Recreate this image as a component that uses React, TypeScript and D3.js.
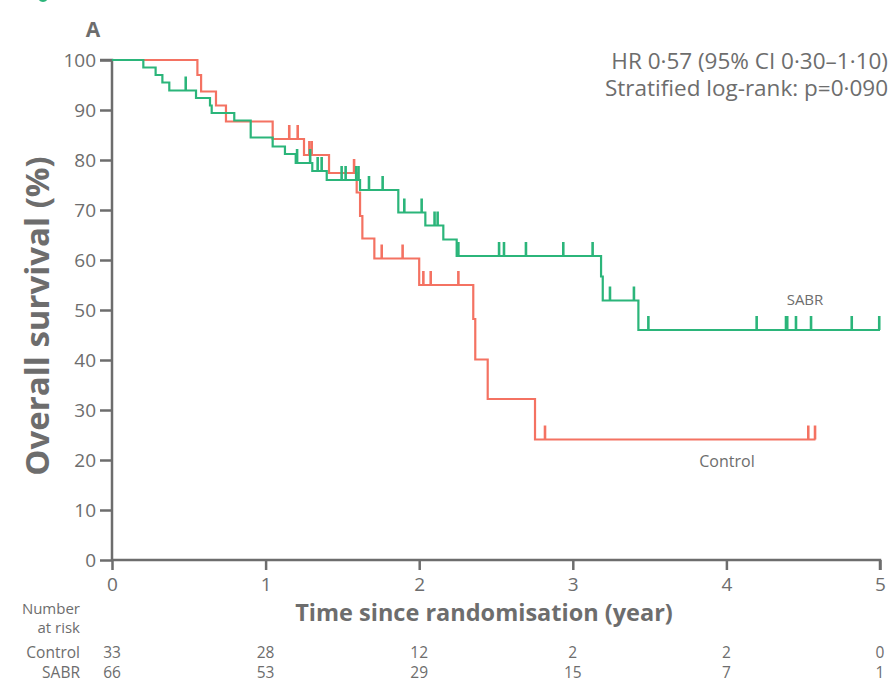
import React, { useEffect, useRef } from "react"
import * as d3 from "d3"

const W = 892
const H = 681

// survival steps (time in years, survival %)
const controlTimes = [0, 0.556, 0.58, 0.677, 0.742, 1.046, 1.25, 1.413, 1.593, 1.615, 1.63, 1.708, 2.0, 2.352, 2.365, 2.446, 2.754]
const controlSurv = [100, 97.0, 93.7, 90.9, 87.7, 84.2, 81.0, 77.4, 73.5, 68.8, 64.3, 60.3, 55.0, 48.2, 40.1, 32.2, 24.1]
const controlCensor = [1.154, 1.209, 1.285, 1.3, 1.576, 1.756, 1.892, 2.027, 2.075, 2.255, 2.819, 4.533, 4.577]
const controlEnd = 4.58

const sabrTimes = [0, 0.204, 0.284, 0.328, 0.373, 0.547, 0.638, 0.649, 0.796, 0.903, 1.046, 1.126, 1.196, 1.304, 1.398, 1.615, 1.864, 2.04, 2.157, 2.244, 3.184, 3.195, 3.427]
const sabrSurv = [100, 98.5, 97.0, 95.5, 93.9, 92.4, 90.9, 89.4, 87.9, 84.5, 82.7, 81.2, 79.4, 77.8, 76.0, 74.0, 69.5, 66.9, 64.1, 60.8, 56.7, 51.9, 46.0]
const sabrCensor = [0.48, 1.205, 1.29, 1.339, 1.365, 1.495, 1.521, 1.59, 1.605, 1.673, 1.762, 1.903, 2.016, 2.1, 2.12, 2.255, 2.52, 2.552, 2.695, 2.938, 3.129, 3.242, 3.398, 3.492, 4.197, 4.388, 4.396, 4.453, 4.551, 4.816, 4.995]
const sabrEnd = 5.0

const xTicks = [0, 1, 2, 3, 4, 5]
const yTicks = [0, 10, 20, 30, 40, 50, 60, 70, 80, 90, 100]
const atRiskControl = [33, 28, 12, 2, 2, 0]
const atRiskSabr = [66, 53, 29, 15, 7, 1]

const GREEN = "#2bb57a"
const RED = "#f47262"
const GREY = "#6d6d6d"
const FONT = "'Open Sans', 'Noto Sans', sans-serif"

const App = () => {
	const svgRef = useRef(null)

	useEffect(() => {
		const svg = d3.select(svgRef.current)
		svg.selectAll("*").remove()

		const x = d3.scaleLinear().domain([0, 5]).range([112, 880])
		const y = d3.scaleLinear().domain([0, 100]).range([560, 60])

		// partial badge cut by the top edge
		svg.append("ellipse")
			.attr("cx", 43).attr("cy", -5).attr("rx", 6).attr("ry", 7)
			.attr("fill", GREEN)

		svg.append("text")
			.attr("x", 93).attr("y", 37)
			.attr("text-anchor", "middle")
			.style("font-family", FONT).style("font-weight", 700).style("font-size", "21px")
			.style("fill", GREY)
			.text("A")

		// axes
		const yAxis = svg.append("g")
			.attr("transform", `translate(${x(0)},0)`)
			.call(d3.axisLeft(y).tickValues(yTicks).tickSize(12).tickPadding(4))
		const xAxis = svg.append("g")
			.attr("transform", `translate(0,${y(0)})`)
			.call(d3.axisBottom(x).tickValues(xTicks).tickSize(10).tickPadding(4).tickFormat(d3.format("d")))

		;[yAxis, xAxis].forEach((g) => {
			g.select(".domain").attr("stroke", GREY).attr("stroke-width", 2.5)
			g.selectAll(".tick line").attr("stroke", GREY).attr("stroke-width", 2.5)
			g.selectAll(".tick text")
				.style("font-family", FONT).style("font-size", "19px").style("fill", GREY)
		})
		yAxis.select(".domain").attr("d", `M-12,${y(100)}H0V${y(0)}`)
		xAxis.select(".domain").attr("d", `M${x(0)},0H${x(5)}V10`)
		xAxis.selectAll(".tick text").attr("dy", "0.9em")

		const drawCurve = (times, surv, censor, end, color) => {
			const pts = times.map((t, i) => [t, surv[i]])
			pts.push([end, surv[surv.length - 1]])
			const line = d3.line()
				.x((d) => x(d[0]))
				.y((d) => y(d[1]))
				.curve(d3.curveStepAfter)
			svg.append("path")
				.attr("d", line(pts))
				.attr("fill", "none")
				.attr("stroke", color)
				.attr("stroke-width", 2.2)

			const survAt = (t) => surv[d3.bisectRight(times, t) - 1]
			svg.append("g").selectAll("line")
				.data(censor)
				.join("line")
				.attr("x1", (d) => x(d)).attr("x2", (d) => x(d))
				.attr("y1", (d) => y(survAt(d)))
				.attr("y2", (d) => y(survAt(d)) - 14)
				.attr("stroke", color)
				.attr("stroke-width", 2.6)
		}

		drawCurve(controlTimes, controlSurv, controlCensor, controlEnd, RED)
		drawCurve(sabrTimes, sabrSurv, sabrCensor, sabrEnd, GREEN)

		const txt = (tx, ty, s, size, anchor, weight = 400) =>
			svg.append("text")
				.attr("x", tx).attr("y", ty)
				.attr("text-anchor", anchor)
				.style("font-family", FONT).style("font-size", `${size}px`)
				.style("font-weight", weight).style("fill", GREY)
				.text(s)

		txt(888, 69, "HR 0·57 (95% CI 0·30–1·10)", 22.5, "end")
		txt(888, 96, "Stratified log-rank: p=0·090", 22.5, "end")
		txt(805, 305, "SABR", 15, "middle")
		txt(727, 467, "Control", 16, "middle")

		svg.append("text")
			.attr("transform", `translate(49,${316}) rotate(-90)`)
			.attr("text-anchor", "middle")
			.style("font-family", FONT).style("font-size", "33px")
			.style("font-weight", 700).style("fill", GREY)
			.text("Overall survival (%)")

		txt(484, 621, "Time since randomisation (year)", 23.5, "middle", 700)

		txt(80, 614, "Number", 15, "end")
		txt(80, 633, "at risk", 15, "end")
		txt(80, 658, "Control", 15.5, "end")
		txt(80, 678, "SABR", 15.5, "end")

		svg.append("g").selectAll("text")
			.data(atRiskControl)
			.join("text")
			.attr("x", (d, i) => x(xTicks[i])).attr("y", 658)
			.attr("text-anchor", "middle")
			.style("font-family", FONT).style("font-size", "15.5px").style("fill", GREY)
			.text((d) => d)
		svg.append("g").selectAll("text")
			.data(atRiskSabr)
			.join("text")
			.attr("x", (d, i) => x(xTicks[i])).attr("y", 678)
			.attr("text-anchor", "middle")
			.style("font-family", FONT).style("font-size", "15.5px").style("fill", GREY)
			.text((d) => d)
	}, [])

	return (
		<svg
			ref={svgRef}
			width={W}
			height={H}
			style={{ position: "absolute", left: 0, top: 0, background: "#fff", display: "block" }}
		></svg>
	)
}

export default App
